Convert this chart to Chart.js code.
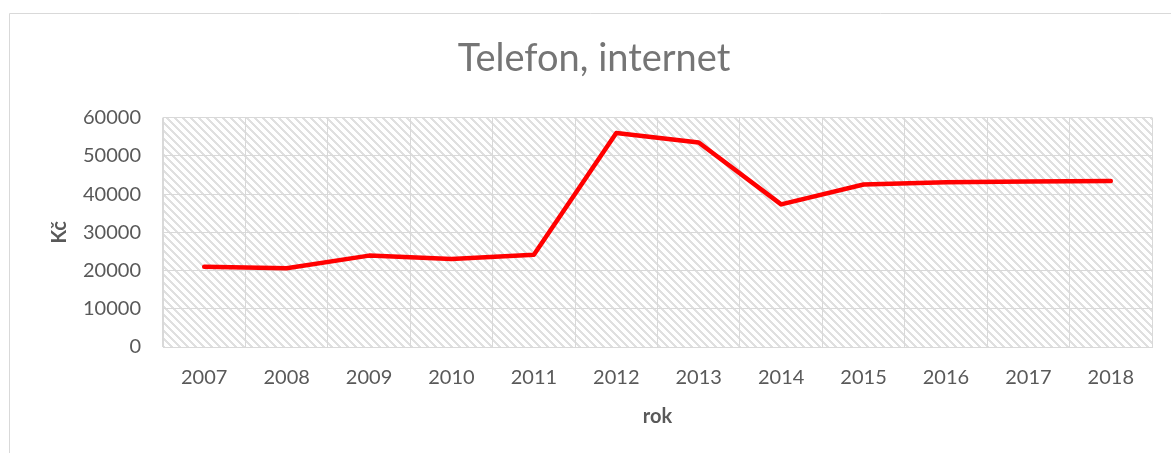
<!DOCTYPE html>
<html>
<head>
<meta charset="utf-8">
<script src="https://cdn.jsdelivr.net/npm/chart.js@4/dist/chart.umd.min.js"></script>
<style>
    html, body { margin: 0; padding: 0; background: #ffffff; }
    #wrap { width: 1171px; height: 453px; position: relative; }
</style>
</head>
<body>
<div id="wrap"><canvas id="chart" width="1171" height="453"></canvas></div>
<script>
// data
const years = ['2007', '2008', '2009', '2010', '2011', '2012', '2013', '2014', '2015', '2016', '2017', '2018'];
const costs = [21000, 20600, 23900, 23000, 24100, 56000, 53500, 37300, 42500, 43100, 43300, 43400];
const yTicks = [0, 10000, 20000, 30000, 40000, 50000, 60000];

const textGray = '#595959';
const gridGray = '#d9d9d9';

// hatch pattern for plot area (Excel "wide downward diagonal")
function makeHatch() {
    const c = document.createElement('canvas');
    c.width = 8; c.height = 8;
    const g = c.getContext('2d');
    g.fillStyle = '#ffffff';
    g.fillRect(0, 0, 8, 8);
    g.fillStyle = '#e0e0e0';
    for (let y = 0; y < 8; y++) {
        for (let k = 0; k < 3; k++) {
            g.fillRect((y + k) % 8, y, 1, 1);
        }
    }
    return c;
}

const plotBackground = {
    id: 'plotBackground',
    beforeDraw(chart) {
        const { ctx, chartArea } = chart;
        ctx.save();
        // outer frame of chart object
        ctx.strokeStyle = gridGray;
        ctx.lineWidth = 1;
        ctx.beginPath();
        ctx.moveTo(9.5, 453);
        ctx.lineTo(9.5, 13.5);
        ctx.lineTo(1171, 13.5);
        ctx.stroke();
        // hatch
        ctx.fillStyle = ctx.createPattern(makeHatch(), 'repeat');
        ctx.fillRect(chartArea.left, chartArea.top, chartArea.right - chartArea.left, chartArea.bottom - chartArea.top);
        ctx.restore();
    }
};

const ctx = document.getElementById('chart').getContext('2d');
new Chart(ctx, {
    type: 'line',
    data: {
        labels: years,
        datasets: [{
            label: 'Telefon, internet',
            data: costs,
            borderColor: '#ff0000',
            borderWidth: 4.5,
            borderCapStyle: 'round',
            borderJoinStyle: 'round',
            pointRadius: 0,
            tension: 0,
            fill: false
        }]
    },
    options: {
        responsive: false,
        animation: false,
        devicePixelRatio: 1,
        layout: { padding: { top: 0, right: 19, bottom: 0, left: 36 } },
        plugins: {
            legend: { display: false },
            tooltip: { enabled: false },
            title: {
                display: true,
                text: 'Telefon, internet',
                color: '#757575',
                font: { family: 'Lato', size: 38, weight: 'normal', lineHeight: 1.2 },
                padding: { top: 36, bottom: 36 }
            }
        },
        scales: {
            x: {
                offset: true,
                grid: { offset: true, color: gridGray, lineWidth: 1, drawTicks: false },
                border: { color: gridGray },
                ticks: { color: textGray, font: { family: 'Lato', size: 20 }, padding: 19, maxRotation: 0 },
                title: {
                    display: true,
                    text: 'rok',
                    color: textGray,
                    font: { family: 'Lato', size: 20, weight: 'bold', lineHeight: 1.2 },
                    padding: { top: 0, bottom: 24 }
                },
                afterFit(s) { s.height = 106; }
            },
            y: {
                min: yTicks[0],
                max: yTicks[yTicks.length - 1],
                afterBuildTicks(s) { s.ticks = yTicks.map(v => ({ value: v })); },
                grid: { color: gridGray, lineWidth: 1, drawTicks: false },
                border: { color: gridGray },
                ticks: {
                    color: textGray,
                    font: { family: 'Lato', size: 20 },
                    padding: 22,
                    callback: v => String(v)
                },
                title: {
                    display: true,
                    text: 'Kč',
                    color: textGray,
                    font: { family: 'Lato', size: 20, weight: 'bold', lineHeight: 1.2 },
                    padding: { top: 12, bottom: 0 }
                },
                afterFit(s) { s.width = 127; }
            }
        }
    },
    plugins: [plotBackground]
});
</script>
</body>
</html>
